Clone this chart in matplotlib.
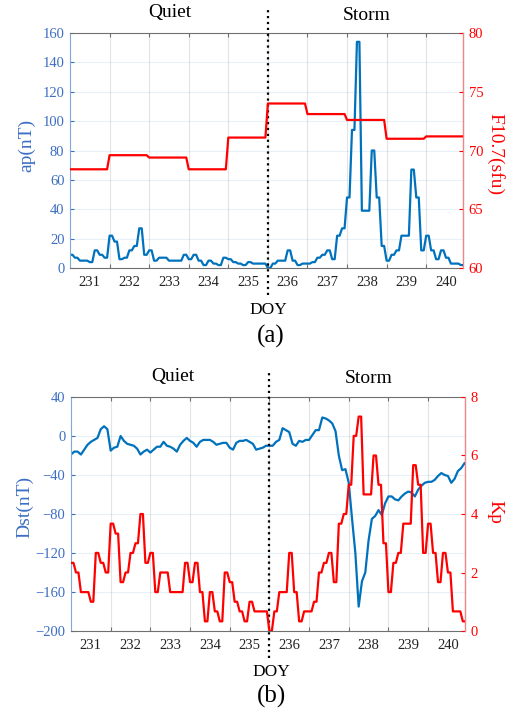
import numpy as np
import matplotlib
matplotlib.use('Agg')
import matplotlib.pyplot as plt
from matplotlib.transforms import blended_transform_factory

# ---------------- data ----------------
days = [231, 232, 233, 234, 235, 236, 237, 238, 239, 240]
day_labels = ['231', '232', '233', '234', '235', '236', '237', '238', '239', '240']

# daily F10.7 (sfu)
f107 = [68.4, 69.6, 69.4, 68.4, 71.1, 74.0, 73.1, 72.6, 71.0, 71.2]

# 3-hourly ap (nT), 8 values per day
ap = [9, 7, 5, 5, 4, 12, 9, 7,
      22, 18, 6, 7, 12, 15, 27, 9,
      12, 5, 7, 7, 5, 5, 5, 9,
      6, 9, 5, 2, 5, 3, 2, 7,
      6, 4, 3, 2, 4, 3, 3, 3,
      0, 3, 5, 5, 12, 5, 2, 3,
      3, 4, 7, 9, 12, 6, 22, 27,
      48, 94, 154, 39, 39, 80, 48, 15,
      5, 9, 12, 22, 22, 67, 48, 12,
      22, 12, 6, 12, 7, 3, 3, 2]

# 3-hourly Kp, 8 values per day
kp = [2.33, 2.0, 1.33, 1.33, 1.0, 2.67, 2.33, 2.0,
      3.67, 3.33, 1.67, 2.0, 2.67, 3.0, 4.0, 2.33,
      2.67, 1.33, 2.0, 2.0, 1.33, 1.33, 1.33, 2.33,
      1.67, 2.33, 1.33, 0.33, 1.33, 0.67, 0.33, 2.0,
      1.67, 1.0, 0.67, 0.33, 1.0, 0.67, 0.67, 0.67,
      0.0, 0.67, 1.33, 1.33, 2.67, 1.33, 0.33, 0.67,
      0.67, 1.0, 2.0, 2.33, 2.67, 1.67, 3.67, 4.0,
      5.0, 6.67, 7.33, 4.67, 4.67, 6.0, 5.0, 3.0,
      1.33, 2.33, 2.67, 3.67, 3.67, 5.67, 5.0, 2.67,
      3.67, 2.67, 1.67, 2.67, 2.0, 0.67, 0.67, 0.33]

# Dst (nT), read every 2 hours (12 values per day)
dst = [-19, -16, -16, -19, -14, -9, -6, -4, -2, 7, 10, 7,
       -15, -12, -11, 0, -5, -8, -9, -10, -13, -19, -16, -14,
       -17, -14, -11, -11, -6, -10, -11, -13, -16, -9, -5, -2,
       -5, -7, -11, -6, -4, -4, -4, -6, -9, -8, -7, -7,
       -12, -14, -7, -5, -5, -4, -6, -8, -14, -13, -12, -10,
       -10, -10, -6, -4, 8, 6, 4, -8, -10, -5, -6, -4,
       -4, 1, 6, 6, 19, 18, 16, 13, 5, -20, -35, -34,
       -48, -85, -120, -175, -149, -140, -107, -85, -82, -76, -81, -69,
       -62, -62, -65, -66, -62, -59, -57, -58, -62, -55, -51, -48,
       -47, -47, -45, -41, -38, -40, -41, -48, -44, -36, -33, -28]

storm_start = 236

# ---------------- style ----------------
plt.rcParams['font.family'] = ['Liberation Serif', 'DejaVu Serif']
BLUE = '#0072BD'
BLUE_T = '#3C6EC2'
BLUE_SP = '#7FA9DA'
RED = '#FF0000'
RED_SP = '#FF8080'
GRAY = '#707070'

fig = plt.figure(figsize=(5.16, 7.18), dpi=100)
W, H = 516.0, 718.0


def frac_rect(l, t, r, b):
    return [l / W, 1 - b / H, (r - l) / W, (b - t) / H]


# 1.5-hour plotting grid: each 3-hourly value is held for half its interval
n_days = len(days)
t15 = days[0] + np.arange(n_days * 16) * 1.5 / 24.0
ap_t = np.repeat(ap, 2)
kp_t = np.repeat(kp, 2)
f107_t = np.repeat(f107, 16)
dst_x = days[0] + np.arange(0, n_days * 24, 2) / 24.0


def style_axes(ax, axr):
    ax.set_xlim(days[0], days[-1] + 0.93)
    ax.set_xticks(days[1:])
    ax.set_xticklabels([])
    ax.set_xticks(np.array(days) + 0.5, minor=True)
    ax.set_xticklabels(day_labels, minor=True)
    ax.tick_params(axis='x', which='major', direction='in', length=3,
                   top=True, bottom=True, color=GRAY, width=0.8)
    ax.tick_params(axis='x', which='minor', length=0, labelsize=10.5,
                   pad=6, labelcolor='#222222')
    ax.tick_params(axis='y', direction='in', length=3, colors=BLUE_T,
                   labelsize=10.5, pad=4, width=0.8)
    ax.grid(axis='x', which='major', color='#262626', alpha=0.12, lw=0.8)
    ax.grid(axis='y', color=BLUE, alpha=0.10, lw=0.8)
    ax.spines['left'].set_color(BLUE_SP)
    ax.spines['top'].set_color(GRAY)
    ax.spines['bottom'].set_color(GRAY)
    for s in ax.spines.values():
        s.set_linewidth(0.8)
    axr.spines['right'].set_color(RED_SP)
    axr.spines['right'].set_linewidth(0.8)
    axr.spines['left'].set_visible(False)
    axr.spines['top'].set_visible(False)
    axr.spines['bottom'].set_visible(False)
    axr.tick_params(axis='y', direction='in', length=3, colors=RED,
                    labelsize=10.5, pad=4, width=0.8)
    tr = blended_transform_factory(ax.transData, ax.transAxes)
    ax.plot([storm_start, storm_start], [-0.115, 1.11], transform=tr,
            color='black', ls=':', lw=1.6, clip_on=False, zorder=10)


# ---------------- panel (a) ----------------
ax1 = fig.add_axes(frac_rect(70, 33, 463, 268))
ax1r = ax1.twinx()
ax1.plot(t15, ap_t, color=BLUE, lw=1.6)
ax1.set_ylim(0, 160)
ax1.set_yticks(np.arange(0, 161, 20))
ax1r.plot(t15, f107_t, color=RED, lw=1.6)
ax1r.set_ylim(60, 80)
ax1r.set_yticks(np.arange(60, 81, 5))
style_axes(ax1, ax1r)

# ---------------- panel (b) ----------------
ax2 = fig.add_axes(frac_rect(71, 397, 465, 631))
ax2r = ax2.twinx()
ax2.plot(dst_x, dst, color=BLUE, lw=1.6)
ax2.set_ylim(-200, 40)
ax2.set_yticks(np.arange(-200, 41, 40))
ax2r.plot(t15, kp_t, color=RED, lw=1.6)
ax2r.set_ylim(0, 8)
ax2r.set_yticks(np.arange(0, 9, 2))
style_axes(ax2, ax2r)

# ---------------- texts ----------------
def ftext(x, y, s, **kw):
    fig.text(x / W, 1 - y / H, s, ha='center', va='center', **kw)

ftext(170, 13, 'Quiet', fontsize=14, color='black')
ftext(367, 15, 'Storm', fontsize=14, color='black')
ftext(268, 310, 'DOY', fontsize=12.5, color='black')
ftext(271, 336, '(a)', fontsize=18, color='black')
ftext(27, 145, 'ap(nT)', fontsize=14, color=BLUE_T, rotation=90)
ftext(495, 154, 'F10.7(sfu)', fontsize=14, color=RED, rotation=270)

ftext(173, 376, 'Quiet', fontsize=14, color='black')
ftext(369, 378, 'Storm', fontsize=14, color='black')
ftext(271, 672, 'DOY', fontsize=12.5, color='black')
ftext(272, 696, '(b)', fontsize=18, color='black')
ftext(25, 507, 'Dst(nT)', fontsize=14, color=BLUE_T, rotation=90)
ftext(495, 512, 'Kp', fontsize=14, color=RED, rotation=270)

fig.savefig('out.png', dpi=100)
